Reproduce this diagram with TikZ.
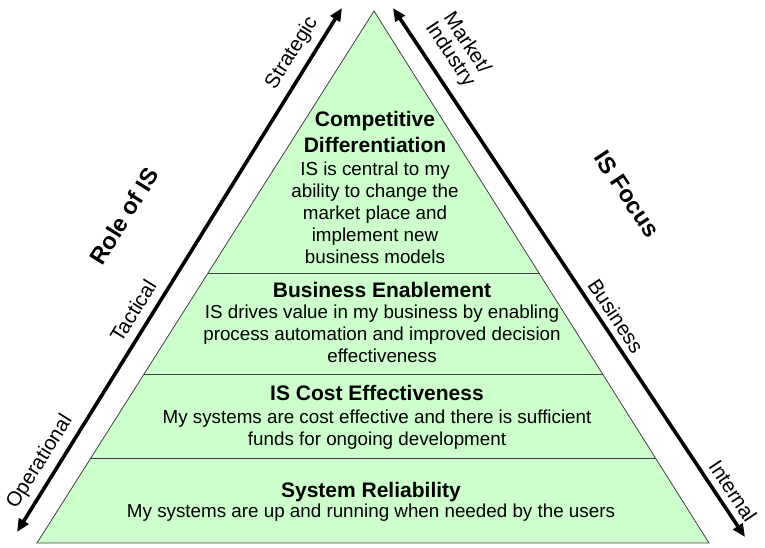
\documentclass[tikz,border=0pt]{standalone}
\usepackage{fontspec}
\setmainfont{Liberation Sans}
\usetikzlibrary{arrows.meta,calc}
\begin{document}
\begin{tikzpicture}[x=1pt,y=-1pt,
  band/.style={fill=pyrgreen,draw=edgegray,line width=0.8pt},
  divider/.style={draw=edgegray,line width=0.8pt},
  axisarrow/.style={line width=3.6pt,{Triangle[length=13pt,width=11pt]}-{Triangle[length=13pt,width=11pt]}},
  title/.style={font=\bfseries\fontsize{21}{25.5}\selectfont,align=center,anchor=base,inner sep=0pt},
  body/.style={font=\fontsize{18.8}{22}\selectfont,align=center,anchor=base,inner sep=0pt},
  sidelabel/.style={font=\fontsize{20.5}{20}\selectfont,align=center,inner sep=0pt},
  axistitle/.style={font=\bfseries\fontsize{23.5}{26}\selectfont,inner sep=0pt}]
\definecolor{pyrgreen}{HTML}{CCFFCC}
\definecolor{edgegray}{HTML}{404040}
\useasboundingbox (0,0) rectangle (765,547);
% triangle
\coordinate (apex) at (374,11);
\coordinate (bl) at (37,543);
\coordinate (br) at (709,543);
\path[band] (apex) -- (br) -- (bl) -- cycle;
\coordinate (l1) at ($(apex)!0.4925!(bl)$);
\coordinate (r1) at ($(apex)!0.4925!(br)$);
\coordinate (l2) at ($(apex)!0.6823!(bl)$);
\coordinate (r2) at ($(apex)!0.6823!(br)$);
\coordinate (l3) at ($(apex)!0.8402!(bl)$);
\coordinate (r3) at ($(apex)!0.8402!(br)$);
\draw[divider] (l1) -- (r1);
\draw[divider] (l2) -- (r2);
\draw[divider] (l3) -- (r3);
% texts in bands (base anchor = baseline of the last line)
\node[title] (t1) at (375,152) {Competitive\\Differentiation};
\node[body] (b1) at (375,263) {IS is central to my\\ability to change the\\market place and\\implement new\\business models};
\node[title] (t2) at (382,297) {Business Enablement};
\node[body] (b2) at (382,362) {IS drives value in my business by enabling\\process automation and improved decision\\effectiveness};
\node[title] (t3) at (377,400) {IS Cost Effectiveness};
\node[body] (b3) at (377,445) {My systems are cost effective and there is sufficient\\funds for ongoing development};
\node[title] (t4) at (371,497) {System Reliability};
\node[body] (b4) at (371,517) {My systems are up and running when needed by the users};
% arrows
\coordinate (la) at (17,532);
\coordinate (lb) at (342,8);
\coordinate (ra) at (393,8);
\coordinate (rb) at (745,537);
\draw[axisarrow] (la) -- (lb);
\draw[axisarrow] (ra) -- (rb);
% side labels
\node[sidelabel,rotate=58] (strat) at (292,53) {Strategic};
\node[sidelabel,rotate=58] (tact) at (133,311) {Tactical};
\node[sidelabel,rotate=58] (oper) at (40,462) {Operational};
\node[axistitle,rotate=58] (role) at (124,216) {Role of IS};
\node[sidelabel,rotate=-56.4] (market) at (458,49) {Market/\\Industry};
\node[axistitle,rotate=-56.4] (focus) at (627,194) {IS Focus};
\node[sidelabel,rotate=-56.4] (bus) at (616,316) {Business};
\node[sidelabel,rotate=-56.4] (int) at (733,491) {Internal};
\end{tikzpicture}
\end{document}
